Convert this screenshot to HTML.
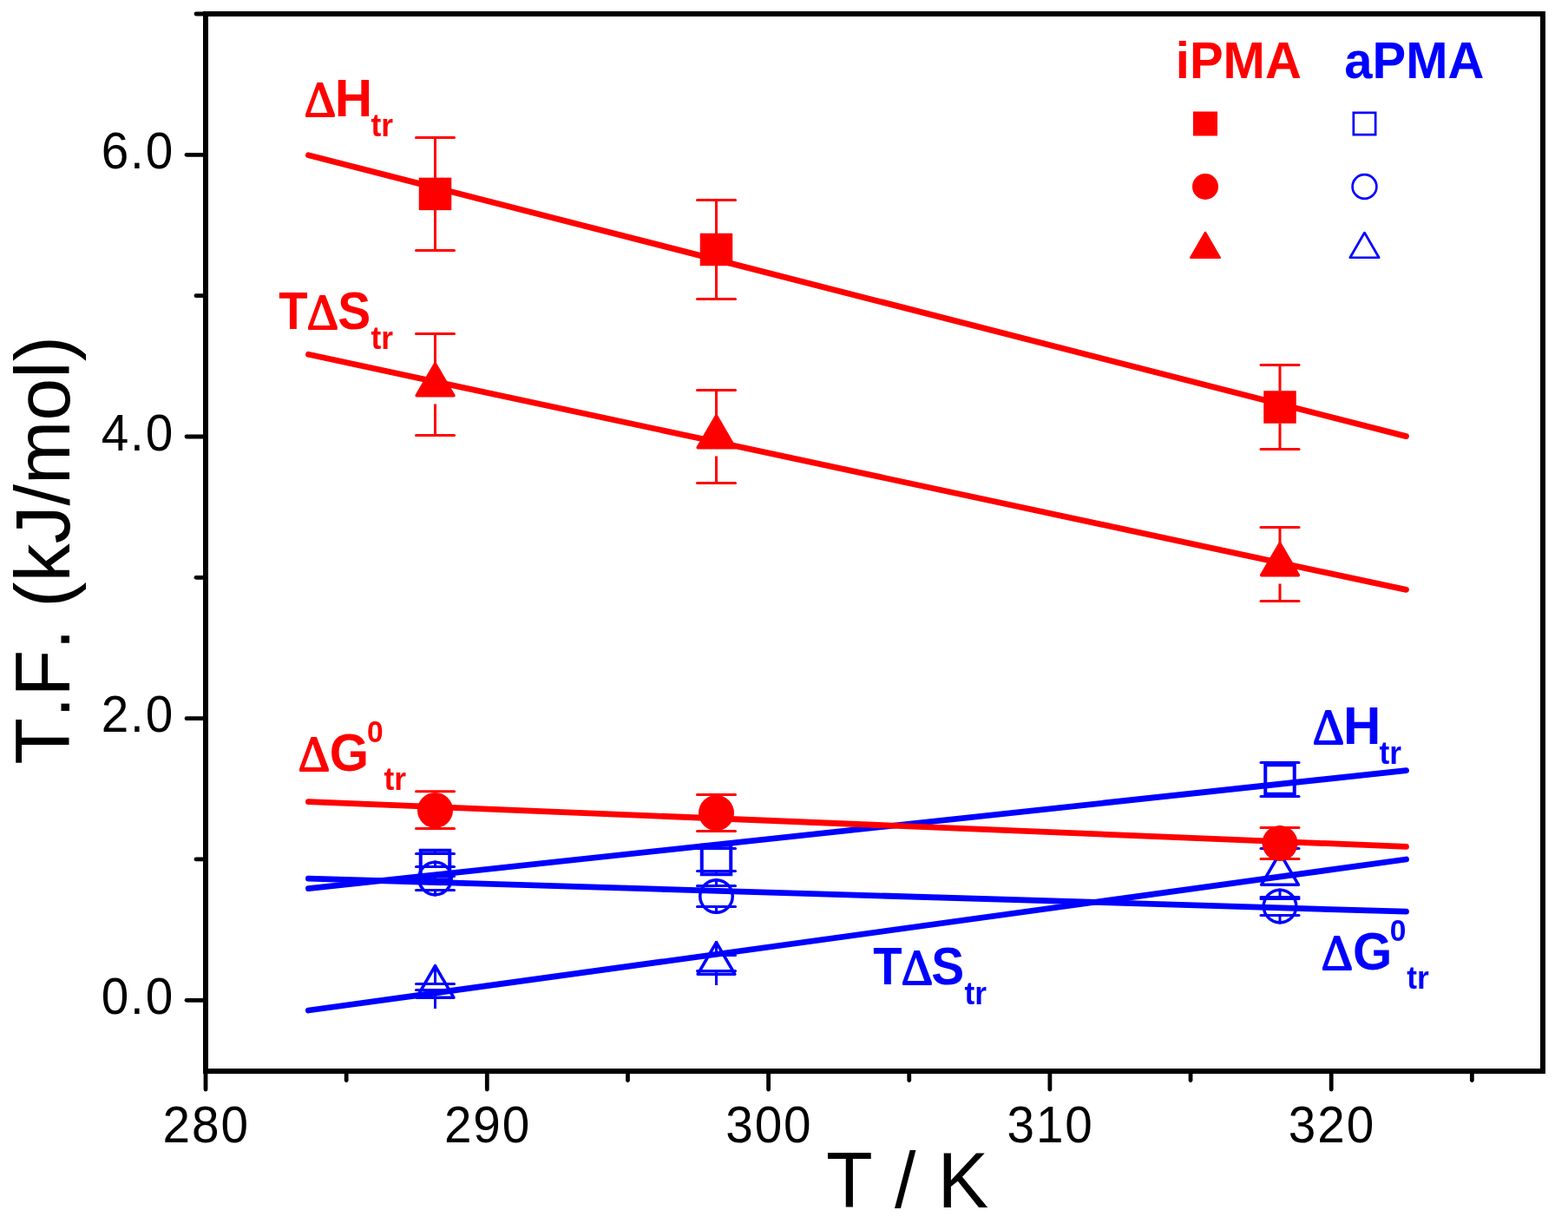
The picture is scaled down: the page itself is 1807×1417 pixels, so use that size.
<!DOCTYPE html>
<html lang="en"><head><meta charset="utf-8"><title>T.F. (kJ/mol) vs T / K</title>
<style>html,body{margin:0;padding:0;background:#fff}body{width:1807px;height:1417px;overflow:hidden}svg{display:block}text{font-family:"Liberation Sans",sans-serif;font-kerning:none;font-variant-ligatures:none}.b{font-weight:bold}.d{font-family:"Liberation Serif","Liberation Sans",serif;font-weight:normal;stroke-width:1.8px;stroke-linejoin:round}</style></head><body>
<svg width="1807" height="1417" viewBox="0 0 1807 1417" role="img" aria-label="T.F. (kJ/mol) versus T / K for iPMA and aPMA">
<rect width="1807" height="1417" fill="#fff"/>
<g id="apma">
<line x1="479.5" y1="983.5" x2="523.5" y2="983.5" stroke="#0000ff" stroke-width="3" stroke-linecap="round"/>
<line x1="479.5" y1="1009.5" x2="523.5" y2="1009.5" stroke="#0000ff" stroke-width="3" stroke-linecap="round"/>
<line x1="501.5" y1="983.5" x2="501.5" y2="978" stroke="#0000ff" stroke-width="3" stroke-linecap="butt"/>
<line x1="501.5" y1="1009.5" x2="501.5" y2="1015" stroke="#0000ff" stroke-width="3" stroke-linecap="butt"/>
<rect x="484.75" y="979.75" width="33.5" height="33.5" fill="none" stroke="#0000ff" stroke-width="4"/>
<line x1="803.5" y1="977.5" x2="847.5" y2="977.5" stroke="#0000ff" stroke-width="3" stroke-linecap="round"/>
<line x1="803.5" y1="1003.5" x2="847.5" y2="1003.5" stroke="#0000ff" stroke-width="3" stroke-linecap="round"/>
<line x1="825.5" y1="977.5" x2="825.5" y2="972" stroke="#0000ff" stroke-width="3" stroke-linecap="butt"/>
<line x1="825.5" y1="1003.5" x2="825.5" y2="1009" stroke="#0000ff" stroke-width="3" stroke-linecap="butt"/>
<rect x="808.75" y="973.75" width="33.5" height="33.5" fill="none" stroke="#0000ff" stroke-width="4"/>
<line x1="1453" y1="878.5" x2="1497" y2="878.5" stroke="#0000ff" stroke-width="3" stroke-linecap="round"/>
<line x1="1453" y1="917.5" x2="1497" y2="917.5" stroke="#0000ff" stroke-width="3" stroke-linecap="round"/>
<line x1="1475" y1="878.5" x2="1475" y2="879.5" stroke="#0000ff" stroke-width="3" stroke-linecap="butt"/>
<line x1="1475" y1="917.5" x2="1475" y2="916.5" stroke="#0000ff" stroke-width="3" stroke-linecap="butt"/>
<rect x="1458.25" y="881.25" width="33.5" height="33.5" fill="none" stroke="#0000ff" stroke-width="4"/>
<line x1="479.5" y1="998.5" x2="523.5" y2="998.5" stroke="#0000ff" stroke-width="3" stroke-linecap="round"/>
<line x1="479.5" y1="1025.5" x2="523.5" y2="1025.5" stroke="#0000ff" stroke-width="3" stroke-linecap="round"/>
<line x1="501.5" y1="998.5" x2="501.5" y2="991.5" stroke="#0000ff" stroke-width="3" stroke-linecap="butt"/>
<line x1="501.5" y1="1025.5" x2="501.5" y2="1032.5" stroke="#0000ff" stroke-width="3" stroke-linecap="butt"/>
<circle cx="501.5" cy="1012" r="18.75" fill="none" stroke="#0000ff" stroke-width="3.5"/>
<line x1="803.5" y1="1020.4" x2="847.5" y2="1020.4" stroke="#0000ff" stroke-width="3" stroke-linecap="round"/>
<line x1="803.5" y1="1044.6" x2="847.5" y2="1044.6" stroke="#0000ff" stroke-width="3" stroke-linecap="round"/>
<line x1="825.5" y1="1020.4" x2="825.5" y2="1012" stroke="#0000ff" stroke-width="3" stroke-linecap="butt"/>
<line x1="825.5" y1="1044.6" x2="825.5" y2="1053" stroke="#0000ff" stroke-width="3" stroke-linecap="butt"/>
<circle cx="825.5" cy="1032.5" r="18.75" fill="none" stroke="#0000ff" stroke-width="3.5"/>
<line x1="1453" y1="1033.6" x2="1497" y2="1033.6" stroke="#0000ff" stroke-width="3" stroke-linecap="round"/>
<line x1="1453" y1="1054.6" x2="1497" y2="1054.6" stroke="#0000ff" stroke-width="3" stroke-linecap="round"/>
<line x1="1475" y1="1033.6" x2="1475" y2="1023.6" stroke="#0000ff" stroke-width="3" stroke-linecap="butt"/>
<line x1="1475" y1="1054.6" x2="1475" y2="1064.6" stroke="#0000ff" stroke-width="3" stroke-linecap="butt"/>
<circle cx="1475" cy="1044.1" r="18.75" fill="none" stroke="#0000ff" stroke-width="3.5"/>
<line x1="479.5" y1="1133.5" x2="523.5" y2="1133.5" stroke="#0000ff" stroke-width="3" stroke-linecap="round"/>
<line x1="479.5" y1="1140.5" x2="523.5" y2="1140.5" stroke="#0000ff" stroke-width="3" stroke-linecap="round"/>
<line x1="501.5" y1="1133.5" x2="501.5" y2="1111" stroke="#0000ff" stroke-width="3" stroke-linecap="butt"/>
<line x1="501.5" y1="1140.5" x2="501.5" y2="1162" stroke="#0000ff" stroke-width="3" stroke-linecap="butt"/>
<path d="M501.50 1112.75 L522.85 1149.25 L480.15 1149.25 Z" fill="none" stroke="#0000ff" stroke-width="3.5" stroke-linejoin="round"/>
<line x1="803.5" y1="1100.5" x2="847.5" y2="1100.5" stroke="#0000ff" stroke-width="3" stroke-linecap="round"/>
<line x1="803.5" y1="1118.5" x2="847.5" y2="1118.5" stroke="#0000ff" stroke-width="3" stroke-linecap="round"/>
<line x1="825.5" y1="1100.5" x2="825.5" y2="1084" stroke="#0000ff" stroke-width="3" stroke-linecap="butt"/>
<line x1="825.5" y1="1118.5" x2="825.5" y2="1135" stroke="#0000ff" stroke-width="3" stroke-linecap="butt"/>
<path d="M825.50 1085.75 L846.85 1122.25 L804.15 1122.25 Z" fill="none" stroke="#0000ff" stroke-width="3.5" stroke-linejoin="round"/>
<line x1="1453" y1="977.6" x2="1497" y2="977.6" stroke="#0000ff" stroke-width="3" stroke-linecap="round"/>
<line x1="1453" y1="1035.6" x2="1497" y2="1035.6" stroke="#0000ff" stroke-width="3" stroke-linecap="round"/>
<line x1="1475" y1="977.6" x2="1475" y2="981" stroke="#0000ff" stroke-width="3" stroke-linecap="butt"/>
<line x1="1475" y1="1035.6" x2="1475" y2="1032" stroke="#0000ff" stroke-width="3" stroke-linecap="butt"/>
<path d="M1475.00 982.75 L1496.35 1019.25 L1453.65 1019.25 Z" fill="none" stroke="#0000ff" stroke-width="3.5" stroke-linejoin="round"/>
<line x1="355.4" y1="1023.6" x2="1620.5" y2="887.6" stroke="#0000ff" stroke-width="6.8" stroke-linecap="round"/>
<line x1="355.4" y1="1012.1" x2="1620.5" y2="1050.2" stroke="#0000ff" stroke-width="6.8" stroke-linecap="round"/>
<line x1="355.4" y1="1164" x2="1620.5" y2="990" stroke="#0000ff" stroke-width="6.8" stroke-linecap="round"/>
</g>
<g id="ipma">
<line x1="479.5" y1="158.6" x2="523.5" y2="158.6" stroke="#ff0000" stroke-width="3" stroke-linecap="round"/>
<line x1="479.5" y1="288.5" x2="523.5" y2="288.5" stroke="#ff0000" stroke-width="3" stroke-linecap="round"/>
<line x1="501.5" y1="158.6" x2="501.5" y2="204.9" stroke="#ff0000" stroke-width="3" stroke-linecap="butt"/>
<line x1="501.5" y1="288.5" x2="501.5" y2="241.9" stroke="#ff0000" stroke-width="3" stroke-linecap="butt"/>
<rect x="482.75" y="204.65" width="37.5" height="37.5" fill="#ff0000"/>
<line x1="803.5" y1="230.5" x2="847.5" y2="230.5" stroke="#ff0000" stroke-width="3" stroke-linecap="round"/>
<line x1="803.5" y1="344.5" x2="847.5" y2="344.5" stroke="#ff0000" stroke-width="3" stroke-linecap="round"/>
<line x1="825.5" y1="230.5" x2="825.5" y2="269" stroke="#ff0000" stroke-width="3" stroke-linecap="butt"/>
<line x1="825.5" y1="344.5" x2="825.5" y2="306" stroke="#ff0000" stroke-width="3" stroke-linecap="butt"/>
<rect x="806.75" y="268.75" width="37.5" height="37.5" fill="#ff0000"/>
<line x1="1453" y1="420.5" x2="1497" y2="420.5" stroke="#ff0000" stroke-width="3" stroke-linecap="round"/>
<line x1="1453" y1="517.5" x2="1497" y2="517.5" stroke="#ff0000" stroke-width="3" stroke-linecap="round"/>
<line x1="1475" y1="420.5" x2="1475" y2="450.5" stroke="#ff0000" stroke-width="3" stroke-linecap="butt"/>
<line x1="1475" y1="517.5" x2="1475" y2="487.5" stroke="#ff0000" stroke-width="3" stroke-linecap="butt"/>
<rect x="1456.25" y="450.25" width="37.5" height="37.5" fill="#ff0000"/>
<line x1="479.5" y1="384.4" x2="523.5" y2="384.4" stroke="#ff0000" stroke-width="3" stroke-linecap="round"/>
<line x1="479.5" y1="501.5" x2="523.5" y2="501.5" stroke="#ff0000" stroke-width="3" stroke-linecap="round"/>
<line x1="501.5" y1="384.4" x2="501.5" y2="419" stroke="#ff0000" stroke-width="3" stroke-linecap="butt"/>
<line x1="501.5" y1="501.5" x2="501.5" y2="465.5" stroke="#ff0000" stroke-width="3" stroke-linecap="butt"/>
<path d="M501.50 419.25 L522.85 455.75 L480.15 455.75 Z" fill="#ff0000" stroke="#ff0000" stroke-width="3.5" stroke-linejoin="round"/>
<line x1="803.5" y1="449.5" x2="847.5" y2="449.5" stroke="#ff0000" stroke-width="3" stroke-linecap="round"/>
<line x1="803.5" y1="556.6" x2="847.5" y2="556.6" stroke="#ff0000" stroke-width="3" stroke-linecap="round"/>
<line x1="825.5" y1="449.5" x2="825.5" y2="479" stroke="#ff0000" stroke-width="3" stroke-linecap="butt"/>
<line x1="825.5" y1="556.6" x2="825.5" y2="525.5" stroke="#ff0000" stroke-width="3" stroke-linecap="butt"/>
<path d="M825.50 479.25 L846.85 515.75 L804.15 515.75 Z" fill="#ff0000" stroke="#ff0000" stroke-width="3.5" stroke-linejoin="round"/>
<line x1="1453" y1="607.5" x2="1497" y2="607.5" stroke="#ff0000" stroke-width="3" stroke-linecap="round"/>
<line x1="1453" y1="692.4" x2="1497" y2="692.4" stroke="#ff0000" stroke-width="3" stroke-linecap="round"/>
<line x1="1475" y1="607.5" x2="1475" y2="626" stroke="#ff0000" stroke-width="3" stroke-linecap="butt"/>
<line x1="1475" y1="692.4" x2="1475" y2="672.5" stroke="#ff0000" stroke-width="3" stroke-linecap="butt"/>
<path d="M1475.00 626.25 L1496.35 662.75 L1453.65 662.75 Z" fill="#ff0000" stroke="#ff0000" stroke-width="3.5" stroke-linejoin="round"/>
<line x1="479.5" y1="911.7" x2="523.5" y2="911.7" stroke="#ff0000" stroke-width="3" stroke-linecap="round"/>
<line x1="479.5" y1="954.5" x2="523.5" y2="954.5" stroke="#ff0000" stroke-width="3" stroke-linecap="round"/>
<line x1="501.5" y1="911.7" x2="501.5" y2="912.9" stroke="#ff0000" stroke-width="3" stroke-linecap="butt"/>
<line x1="501.5" y1="954.5" x2="501.5" y2="953.9" stroke="#ff0000" stroke-width="3" stroke-linecap="butt"/>
<circle cx="501.5" cy="933.4" r="20.5" fill="#ff0000"/>
<line x1="803.5" y1="915.5" x2="847.5" y2="915.5" stroke="#ff0000" stroke-width="3" stroke-linecap="round"/>
<line x1="803.5" y1="957.4" x2="847.5" y2="957.4" stroke="#ff0000" stroke-width="3" stroke-linecap="round"/>
<line x1="825.5" y1="915.5" x2="825.5" y2="916" stroke="#ff0000" stroke-width="3" stroke-linecap="butt"/>
<line x1="825.5" y1="957.4" x2="825.5" y2="957" stroke="#ff0000" stroke-width="3" stroke-linecap="butt"/>
<circle cx="825.5" cy="936.5" r="20.5" fill="#ff0000"/>
<line x1="1453" y1="953.6" x2="1497" y2="953.6" stroke="#ff0000" stroke-width="3" stroke-linecap="round"/>
<line x1="1453" y1="989.5" x2="1497" y2="989.5" stroke="#ff0000" stroke-width="3" stroke-linecap="round"/>
<line x1="1475" y1="953.6" x2="1475" y2="950.9" stroke="#ff0000" stroke-width="3" stroke-linecap="butt"/>
<line x1="1475" y1="989.5" x2="1475" y2="991.9" stroke="#ff0000" stroke-width="3" stroke-linecap="butt"/>
<circle cx="1475" cy="971.4" r="20.5" fill="#ff0000"/>
<line x1="355.4" y1="178.8" x2="1620.5" y2="502.6" stroke="#ff0000" stroke-width="6.8" stroke-linecap="round"/>
<line x1="355.4" y1="408.3" x2="1620.5" y2="679.4" stroke="#ff0000" stroke-width="6.8" stroke-linecap="round"/>
<line x1="355.4" y1="923.6" x2="1620.5" y2="975.4" stroke="#ff0000" stroke-width="6.8" stroke-linecap="round"/>
</g>
<g id="axes">
<line x1="237" y1="16" x2="1778" y2="16" stroke="#000000" stroke-width="6" stroke-linecap="square"/>
<line x1="1778" y1="16" x2="1778" y2="1234" stroke="#000000" stroke-width="6" stroke-linecap="square"/>
<line x1="237" y1="1234" x2="1778" y2="1234" stroke="#000000" stroke-width="6" stroke-linecap="square"/>
<line x1="237" y1="16" x2="237" y2="1234" stroke="#000000" stroke-width="6" stroke-linecap="square"/>
<line x1="237" y1="178.32" x2="215" y2="178.32" stroke="#000000" stroke-width="4.8" stroke-linecap="round"/>
<line x1="237" y1="502.98" x2="215" y2="502.98" stroke="#000000" stroke-width="4.8" stroke-linecap="round"/>
<line x1="237" y1="827.64" x2="215" y2="827.64" stroke="#000000" stroke-width="4.8" stroke-linecap="round"/>
<line x1="237" y1="1152.3" x2="215" y2="1152.3" stroke="#000000" stroke-width="4.8" stroke-linecap="round"/>
<line x1="237" y1="15.99" x2="226" y2="15.99" stroke="#000000" stroke-width="4.8" stroke-linecap="round"/>
<line x1="237" y1="340.65" x2="226" y2="340.65" stroke="#000000" stroke-width="4.8" stroke-linecap="round"/>
<line x1="237" y1="665.31" x2="226" y2="665.31" stroke="#000000" stroke-width="4.8" stroke-linecap="round"/>
<line x1="237" y1="989.97" x2="226" y2="989.97" stroke="#000000" stroke-width="4.8" stroke-linecap="round"/>
<line x1="237" y1="1234" x2="237" y2="1255" stroke="#000000" stroke-width="4.8" stroke-linecap="round"/>
<line x1="561.3" y1="1234" x2="561.3" y2="1255" stroke="#000000" stroke-width="4.8" stroke-linecap="round"/>
<line x1="885.6" y1="1234" x2="885.6" y2="1255" stroke="#000000" stroke-width="4.8" stroke-linecap="round"/>
<line x1="1209.9" y1="1234" x2="1209.9" y2="1255" stroke="#000000" stroke-width="4.8" stroke-linecap="round"/>
<line x1="1534.2" y1="1234" x2="1534.2" y2="1255" stroke="#000000" stroke-width="4.8" stroke-linecap="round"/>
<line x1="399.15" y1="1234" x2="399.15" y2="1244.5" stroke="#000000" stroke-width="4.8" stroke-linecap="round"/>
<line x1="723.45" y1="1234" x2="723.45" y2="1244.5" stroke="#000000" stroke-width="4.8" stroke-linecap="round"/>
<line x1="1047.75" y1="1234" x2="1047.75" y2="1244.5" stroke="#000000" stroke-width="4.8" stroke-linecap="round"/>
<line x1="1372.05" y1="1234" x2="1372.05" y2="1244.5" stroke="#000000" stroke-width="4.8" stroke-linecap="round"/>
<line x1="1696.35" y1="1234" x2="1696.35" y2="1244.5" stroke="#000000" stroke-width="4.8" stroke-linecap="round"/>
</g>
<g id="ticklabels" font-size="56.7" fill="#000" style="letter-spacing:1.9px">
<text transform="translate(201.20 193.92) scale(1 1.035)" text-anchor="end">6.0</text>
<text transform="translate(201.20 518.58) scale(1 1.035)" text-anchor="end">4.0</text>
<text transform="translate(201.20 843.24) scale(1 1.035)" text-anchor="end">2.0</text>
<text transform="translate(201.20 1167.90) scale(1 1.035)" text-anchor="end">0.0</text>
<text transform="translate(237.75 1315.6) scale(1 1.035)" text-anchor="middle">280</text>
<text transform="translate(562.05 1315.6) scale(1 1.035)" text-anchor="middle">290</text>
<text transform="translate(886.35 1315.6) scale(1 1.035)" text-anchor="middle">300</text>
<text transform="translate(1210.65 1315.6) scale(1 1.035)" text-anchor="middle">310</text>
<text transform="translate(1534.95 1315.6) scale(1 1.035)" text-anchor="middle">320</text>
</g>
<text transform="translate(952 1391.1) scale(1 1.039)" font-size="88" fill="#000" style="word-spacing:0.7px">T / K</text>
<text transform="translate(80 880.7) rotate(-90) scale(1 1.02)" font-size="88" fill="#000">T.F. (kJ/mol)</text>
<g id="legend">
<text class="b" transform="translate(1354.8 89.8) scale(1 1.03)" font-size="58" fill="#ff0000">iPMA</text>
<text class="b" transform="translate(1549.3 89.8) scale(1 1.03)" font-size="58" fill="#0000ff">aPMA</text>
<rect x="1375" y="128.5" width="28" height="28" fill="#ff0000"/>
<circle cx="1389" cy="215" r="15" fill="#ff0000"/>
<path d="M1389.00 267.95 L1405.75 296.85 L1372.25 296.85 Z" fill="#ff0000" stroke="#ff0000" stroke-width="2.5" stroke-linejoin="round"/>
<rect x="1559.85" y="129.85" width="25.3" height="25.3" fill="none" stroke="#0000ff" stroke-width="2.7"/>
<circle cx="1572.5" cy="215" r="13.9" fill="none" stroke="#0000ff" stroke-width="2.7"/>
<path d="M1572.50 268.05 L1589.15 296.75 L1555.85 296.75 Z" fill="none" stroke="#0000ff" stroke-width="2.7" stroke-linejoin="round"/>
</g>
<g id="labels">
<text class="d" x="350.65" y="134.20" font-size="56.5" fill="#ff0000" stroke="#ff0000">Δ</text>
<text class="b" transform="translate(385.69 134.10) scale(1 1.022)" font-size="60" fill="#ff0000">H</text>
<text class="b" transform="translate(427.47 156.70) scale(1 1.04)" font-size="35.3" fill="#ff0000">tr</text>
<text class="b" transform="translate(321.29 379.00) scale(0.9085 1.022)" font-size="60" fill="#ff0000">T</text>
<text class="d" x="353.75" y="379.30" font-size="56.5" fill="#ff0000" stroke="#ff0000">Δ</text>
<text class="b" transform="translate(389.36 379.30) scale(0.9486 1.03)" font-size="60" fill="#ff0000">S</text>
<text class="b" transform="translate(427.57 401.90) scale(1 1.04)" font-size="35.3" fill="#ff0000">tr</text>
<text class="d" x="343.85" y="887.50" font-size="56.5" fill="#ff0000" stroke="#ff0000">Δ</text>
<text class="b" transform="translate(379.71 887.50) scale(0.9706 1.03)" font-size="60" fill="#ff0000">G</text>
<text class="b" transform="translate(422.97 854.50) scale(1 1.03)" font-size="33.5" fill="#ff0000">0</text>
<text class="b" transform="translate(442.57 909.90) scale(1 1.04)" font-size="35.3" fill="#ff0000">tr</text>
<text class="d" x="1512.65" y="857.20" font-size="56.5" fill="#0000ff" stroke="#0000ff">Δ</text>
<text class="b" transform="translate(1547.89 857.10) scale(1 1.022)" font-size="60" fill="#0000ff">H</text>
<text class="b" transform="translate(1589.57 879.90) scale(1 1.04)" font-size="35.3" fill="#0000ff">tr</text>
<text class="b" transform="translate(1006.29 1134.00) scale(0.9085 1.022)" font-size="60" fill="#0000ff">T</text>
<text class="d" x="1038.75" y="1134.30" font-size="56.5" fill="#0000ff" stroke="#0000ff">Δ</text>
<text class="b" transform="translate(1073.36 1134.30) scale(0.9486 1.03)" font-size="60" fill="#0000ff">S</text>
<text class="b" transform="translate(1111.57 1156.90) scale(1 1.04)" font-size="35.3" fill="#0000ff">tr</text>
<text class="d" x="1522.65" y="1116.60" font-size="56.5" fill="#0000ff" stroke="#0000ff">Δ</text>
<text class="b" transform="translate(1558.91 1116.60) scale(0.9706 1.03)" font-size="60" fill="#0000ff">G</text>
<text class="b" transform="translate(1601.77 1083.80) scale(1 1.03)" font-size="33.5" fill="#0000ff">0</text>
<text class="b" transform="translate(1621.37 1139.10) scale(1 1.04)" font-size="35.3" fill="#0000ff">tr</text>
</g>
</svg></body></html>
